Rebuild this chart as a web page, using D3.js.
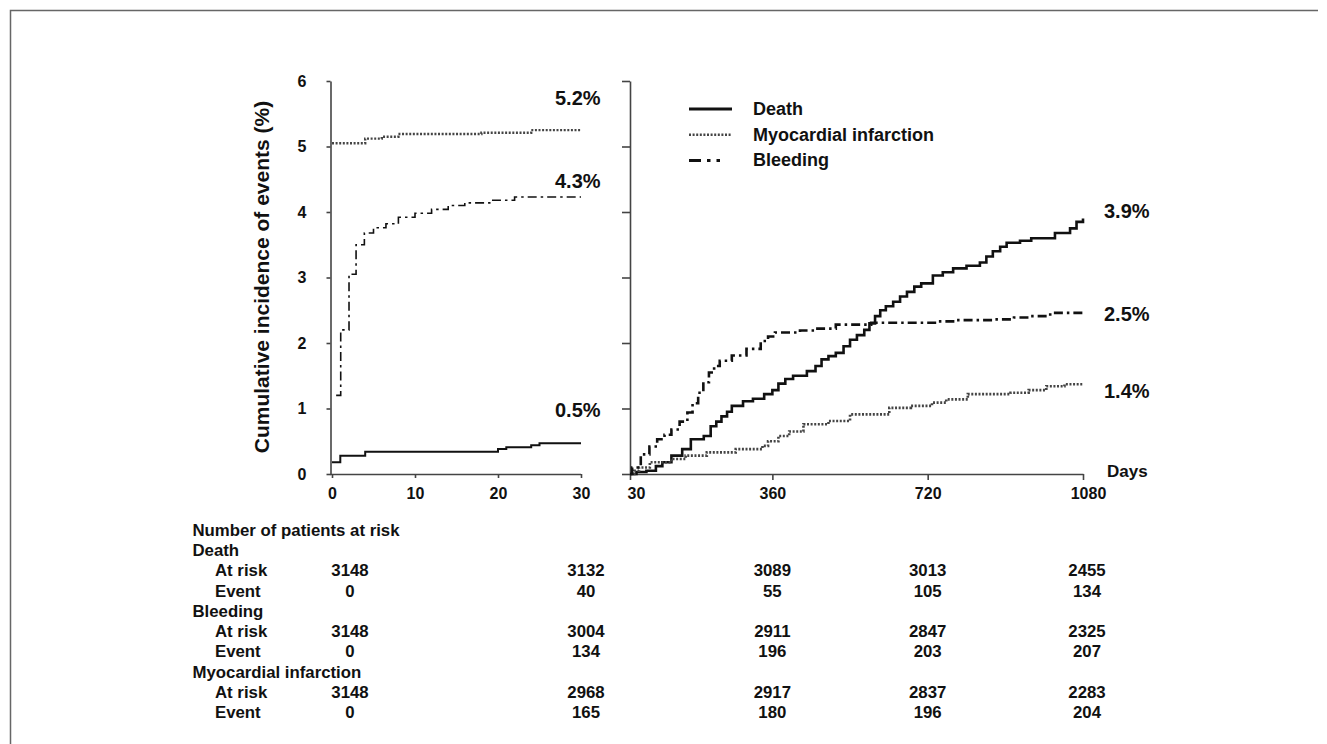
<!DOCTYPE html>
<meta charset="utf-8">
<head>
<style>
  body { margin: 0; background: #fff; }
  svg { display: block; }
  text { font-family: "Liberation Sans", Arial, sans-serif; font-weight: bold; fill: #111; }
</style>
</head>
<body>
<script src="https://cdn.jsdelivr.net/npm/d3@7"></script>
<script>
// ---- data ----
const yTicks = [0, 1, 2, 3, 4, 5, 6];
const earlyTicks = [0, 10, 20, 30];
const lateTicks = [30, 360, 720, 1080];

// days 0-30, cumulative %
const deathEarly = [[0,0.18],[1,0.28],[4,0.34],[19,0.34],[20,0.38],[21,0.41],[24,0.44],[25,0.47],[30,0.47]];
const miEarly = [[0,5.05],[4,5.12],[6,5.15],[8,5.19],[18,5.21],[24,5.25],[30,5.25]];
const bleedEarly = [[0.5,1.2],[1.05,2.2],[2.05,3.05],[2.9,3.5],[3.9,3.68],[5,3.76],[6.5,3.82],[8,3.92],[10,3.98],[12,4.04],[14,4.1],[16,4.14],[19,4.18],[22,4.23],[30,4.23]];

// days 30-1080, cumulative %
const deathLate = [[30,0],[45,0.03],[68,0.05],[90,0.12],[105,0.18],[126,0.28],[151,0.38],[171,0.53],[201,0.58],[217,0.73],[230,0.8],[242,0.88],[255,0.95],[266,1.04],[292,1.11],[315,1.15],[341,1.22],[360,1.28],[374,1.38],[390,1.45],[408,1.5],[440,1.57],[460,1.65],[474,1.75],[490,1.8],[507,1.85],[525,1.95],[540,2.05],[556,2.12],[573,2.2],[585,2.3],[598,2.41],[610,2.5],[623,2.56],[640,2.63],[656,2.71],[672,2.78],[689,2.86],[705,2.91],[732,3.03],[755,3.08],[779,3.14],[810,3.18],[841,3.23],[856,3.32],[871,3.4],[888,3.47],[903,3.53],[934,3.56],[960,3.6],[1000,3.6],[1015,3.68],[1050,3.75],[1065,3.85],[1080,3.9]];
const bleedLate = [[30,0],[35,0.1],[55,0.3],[75,0.42],[93,0.53],[110,0.6],[126,0.68],[145,0.8],[163,0.94],[175,1.08],[188,1.24],[200,1.4],[213,1.55],[225,1.65],[238,1.73],[266,1.81],[300,1.91],[333,2.03],[350,2.1],[366,2.16],[424,2.19],[457,2.22],[507,2.28],[589,2.31],[664,2.31],[740,2.33],[788,2.35],[871,2.36],[920,2.39],[954,2.41],[1004,2.46],[1080,2.47]];
const miLate = [[30,0],[40,0.05],[51,0.1],[76,0.18],[126,0.23],[159,0.28],[208,0.33],[275,0.38],[337,0.43],[350,0.5],[374,0.58],[399,0.65],[432,0.76],[490,0.81],[540,0.91],[598,0.91],[631,1.01],[681,1.04],[730,1.09],[763,1.14],[813,1.22],[871,1.22],[912,1.24],[954,1.28],[995,1.34],[1037,1.37],[1080,1.37]];

// end-of-curve labels: text and the % level they sit at
const earlyLabels = ["5.2%", "4.3%", "0.5%"];
const earlyLabelLevels = [5.74, 4.48, 0.97];
const lateLabels = ["3.9%", "2.5%", "1.4%"];
const lateLabelLevels = [4.02, 2.45, 1.27];

const legendNames = ["Death", "Myocardial infarction", "Bleeding"];

// risk table
const tableDays = [0, 30, 360, 720, 1080];
const deathAtRisk = [3148, 3132, 3089, 3013, 2455];
const deathEvent = [0, 40, 55, 105, 134];
const bleedAtRisk = [3148, 3004, 2911, 2847, 2325];
const bleedEvent = [0, 134, 196, 203, 207];
const miAtRisk = [3148, 2968, 2917, 2837, 2283];
const miEvent = [0, 165, 180, 196, 204];

// ---- layout ----
const width = 1327, height = 744;
const svg = d3.select("body").append("svg")
    .attr("width", width).attr("height", height);

// frame (top + left only, as in the scan)
svg.append("path")
    .attr("d", "M10.5,744 V10.5 H1318")
    .attr("fill", "none").attr("stroke", "#666").attr("stroke-width", 1.5);

const y = d3.scaleLinear().domain([0, 6]).range([474, 81]);
const xE = d3.scaleLinear().domain([0, 30]).range([332, 581]);
const xL = d3.scaleLinear().domain([30, 1080]).range([630, 1083]);
const fmt = d3.format("d");

const axisColor = "#444";
function styleAxis(g) {
    g.select(".domain").attr("stroke", axisColor).attr("stroke-width", 1.6);
    g.selectAll(".tick line").attr("stroke", axisColor).attr("stroke-width", 1.6);
    g.selectAll(".tick text").attr("font-size", 16).attr("fill", "#111");
}

// left panel axes
svg.append("g").attr("transform", "translate(330.5,0)")
    .call(d3.axisLeft(y).tickValues(yTicks).tickFormat(fmt).tickSize(4).tickSizeOuter(0).tickPadding(20))
    .call(styleAxis);
svg.append("g").attr("transform", "translate(0,474)")
    .call(d3.axisBottom(xE).tickValues(earlyTicks).tickFormat(fmt).tickSize(4).tickSizeOuter(0).tickPadding(10))
    .call(styleAxis)
    .call(g => g.select(".domain").attr("d", "M330,0.5 H581"));

// right panel axes
svg.append("g").attr("transform", "translate(630,0)")
    .call(d3.axisLeft(y).tickValues(yTicks).tickSize(8).tickSizeOuter(0).tickFormat(""))
    .call(styleAxis);
svg.append("g").attr("transform", "translate(0,474)")
    .call(d3.axisBottom(xL).tickValues(lateTicks).tickFormat(fmt).tickSize(6).tickSizeOuter(0).tickPadding(8))
    .call(styleAxis)
    .call(g => g.selectAll(".tick text").attr("dx", (d, i) => i === 0 ? 6 : (i === 3 ? 5 : 0)));

svg.append("text").attr("x", 1107).attr("y", 477)
    .attr("font-size", 17).text("Days");

svg.append("text")
    .attr("transform", "translate(269,277) rotate(-90)")
    .attr("text-anchor", "middle").attr("font-size", 21)
    .text("Cumulative incidence of events (%)");

// line styles
const styles = {
    death: { dash: null, color: "#111", w: 2.6 },
    mi: { dash: "2,1.6", color: "#444", w: 2.6 },
    bleed: { dash: "9,4,2.5,4", color: "#111", w: 2.6 }
};

function drawCurve(data, xs, st, w) {
    svg.append("path")
        .datum(data)
        .attr("fill", "none")
        .attr("stroke", st.color)
        .attr("stroke-width", w || st.w)
        .attr("stroke-dasharray", st.dash)
        .attr("d", d3.line().curve(d3.curveStepAfter).x(d => xs(d[0])).y(d => y(d[1])));
}

drawCurve(deathEarly, xE, styles.death, 2);
drawCurve(miEarly, xE, styles.mi, 2.4);
drawCurve(bleedEarly, xE, styles.bleed, 1.6);
drawCurve(deathLate, xL, styles.death);
drawCurve(miLate, xL, styles.mi);
drawCurve(bleedLate, xL, styles.bleed);

svg.selectAll(".elab").data(earlyLabels).join("text")
    .attr("x", 555).attr("y", (d, i) => y(earlyLabelLevels[i]) + 7)
    .attr("font-size", 20).text(d => d);
svg.selectAll(".llab").data(lateLabels).join("text")
    .attr("x", 1104).attr("y", (d, i) => y(lateLabelLevels[i]) + 7)
    .attr("font-size", 20).text(d => d);

// legend
const legendStyles = [styles.death, styles.mi, styles.bleed];
const leg = svg.append("g");
legendNames.forEach((name, i) => {
    const ly = 109 + i * 25.7;
    const st = legendStyles[i];
    leg.append("line")
        .attr("x1", 689).attr("x2", 732).attr("y1", ly).attr("y2", ly)
        .attr("stroke", st.color).attr("stroke-width", i === 1 ? 2.6 : 3)
        .attr("stroke-dasharray", i === 2 ? "12,6,3.5,6,3.5,20" : st.dash);
    leg.append("text").attr("x", 753).attr("y", ly + 6)
        .attr("font-size", 18).text(name);
});

// risk table
const colX = [350, xE(30) + 5, xL(360), xL(720) + 0, xL(1080) + 4];
const rows = [
    { label: "Number of patients at risk", indent: false },
    { label: "Death", indent: false },
    { label: "At risk", indent: true, vals: deathAtRisk },
    { label: "Event", indent: true, vals: deathEvent },
    { label: "Bleeding", indent: false },
    { label: "At risk", indent: true, vals: bleedAtRisk },
    { label: "Event", indent: true, vals: bleedEvent },
    { label: "Myocardial infarction", indent: false },
    { label: "At risk", indent: true, vals: miAtRisk },
    { label: "Event", indent: true, vals: miEvent }
];
const rowY = d3.scaleLinear().domain([0, rows.length - 1]).range([536, 718]);
const tbl = svg.append("g").attr("font-size", 16.8);
rows.forEach((r, i) => {
    tbl.append("text").attr("x", r.indent ? 215 : 192.5).attr("y", rowY(i))
        .attr("font-size", 16.8).text(r.label);
    if (r.vals) {
        tbl.selectAll(null).data(r.vals).join("text")
            .attr("x", (d, j) => colX[j])
            .attr("y", rowY(i))
            .attr("text-anchor", "middle")
            .attr("font-size", 16.8)
            .text(d => d);
    }
});
</script>
</body>
